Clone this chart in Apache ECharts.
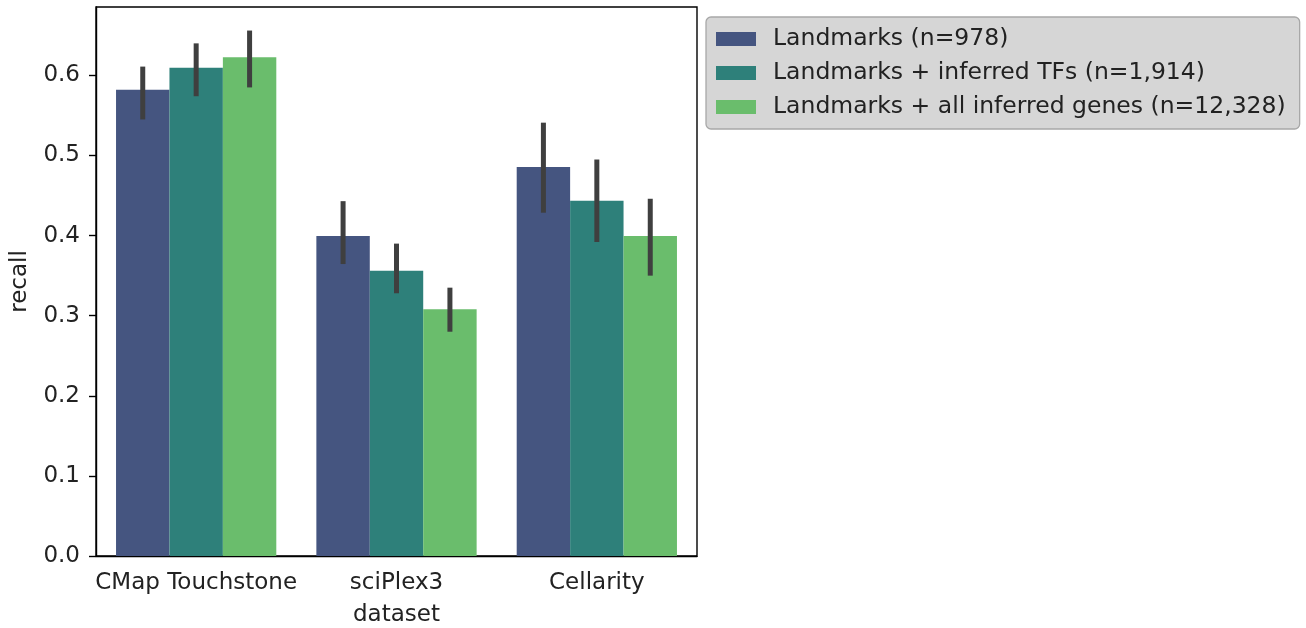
<!DOCTYPE html>
<html><head><meta charset="utf-8">
<script src="https://cdn.jsdelivr.net/npm/echarts@6/dist/echarts.min.js"></script>
<style>html,body{margin:0;padding:0;background:#fff}#c{width:1306px;height:628px}</style>
</head><body><div id="c"></div>
<script>
const categories = ['CMap Touchstone', 'sciPlex3', 'Cellarity'];
const seriesNames = ['Landmarks (n=978)', 'Landmarks + inferred TFs (n=1,914)', 'Landmarks + all inferred genes (n=12,328)'];
const colors = ['#455580', '#2e807a', '#6abd6c'];
const landmarks = [0.582, 0.3995, 0.4856];
const inferredTFs = [0.6096, 0.356, 0.4436];
const allGenes = [0.6226, 0.308, 0.3995];
const landmarksLow = [0.545, 0.3645, 0.4286];
const landmarksHigh = [0.611, 0.443, 0.541];
const tfsLow = [0.574, 0.328, 0.392];
const tfsHigh = [0.640, 0.390, 0.495];
const allLow = [0.585, 0.280, 0.350];
const allHigh = [0.656, 0.335, 0.446];
const yTicks = [0, 0.1, 0.2, 0.3, 0.4, 0.5, 0.6];

const values = [landmarks, inferredTFs, allGenes];
const lows = [landmarksLow, tfsLow, allLow];
const highs = [landmarksHigh, tfsHigh, allHigh];
const FONT = 'DejaVu Sans';
const FS = 23;

const chart = echarts.init(document.getElementById('c'), null, {renderer: 'canvas'});
const series = [];
values.forEach((v, i) => {
  series.push({
    name: seriesNames[i], type: 'bar', data: v,
    barGap: '0%', barCategoryGap: '20%',
    itemStyle: {color: colors[i]},
    emphasis: {disabled: true}
  });
});
values.forEach((v, i) => {
  series.push({
    type: 'custom', z: 10, silent: true,
    data: categories.map((c, k) => [k, lows[i][k], highs[i][k]]),
    renderItem: function (params, api) {
      const k = api.value(0);
      const lo = api.coord([k, api.value(1)]);
      const hi = api.coord([k, api.value(2)]);
      const band = api.size([1, 0])[0];
      const bw = band * 0.8 / 3;
      const x = lo[0] + (i - 1) * bw;
      return {type: 'line', shape: {x1: x, y1: lo[1], x2: x, y2: hi[1]},
        style: {stroke: '#3f3f3f', lineWidth: 5}};
    }
  });
});

chart.setOption({
  animation: false,
  textStyle: {fontFamily: FONT},
  grid: {left: 96, right: 609, top: 7, bottom: 72, show: true, borderColor: '#000', borderWidth: 1.4,
    containLabel: false, outerBoundsMode: 'none'},
  legend: {
    orient: 'vertical', left: 706, top: 17,
    data: seriesNames,
    itemWidth: 40, itemHeight: 14, itemGap: 10,
    icon: 'rect',
    backgroundColor: '#d6d6d6', borderColor: '#a8a8a8', borderWidth: 1.3, borderRadius: 5,
    padding: [10, 14, 10, 10],
    textStyle: {fontFamily: FONT, fontSize: 23.5, color: '#222', padding: [0, 0, 0, 12]}
  },
  xAxis: {
    type: 'category', data: categories,
    name: 'dataset', nameLocation: 'middle', nameGap: 48,
    nameTextStyle: {fontFamily: FONT, fontSize: FS, color: '#222'},
    axisLine: {lineStyle: {color: '#000', width: 1.4}},
    axisTick: {alignWithLabel: true, length: 7, lineStyle: {color: '#000', width: 1.4}},
    axisLabel: {interval: 0, fontFamily: FONT, fontSize: FS, color: '#222', margin: 16}
  },
  yAxis: {
    type: 'value', min: 0, max: 0.6854,
    name: 'recall', nameLocation: 'middle', nameGap: 64,
    nameTextStyle: {fontFamily: FONT, fontSize: FS, color: '#222'},
    splitLine: {show: false},
    axisLine: {show: true, lineStyle: {color: '#000', width: 1.4}},
    axisTick: {show: true, length: 7, customValues: yTicks, lineStyle: {color: '#000', width: 1.4}},
    axisLabel: {fontFamily: FONT, fontSize: FS, color: '#222', margin: 16, customValues: yTicks,
      formatter: v => v.toFixed(1)}
  },
  series: series
});
</script>
</body></html>
